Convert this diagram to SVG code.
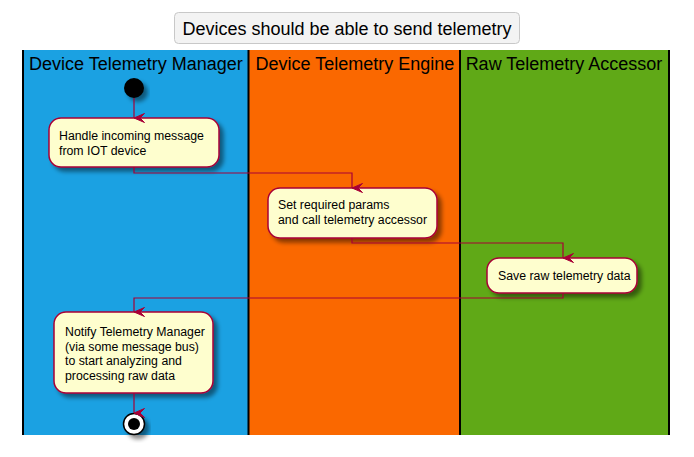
<svg xmlns="http://www.w3.org/2000/svg" width="694" height="457" viewBox="0 0 694 457">
  <defs>
    <filter id="shadow" x="-20%" y="-20%" width="150%" height="160%">
      <feGaussianBlur in="SourceAlpha" stdDeviation="2"/>
      <feOffset dx="4" dy="4" result="blur"/>
      <feColorMatrix in="blur" type="matrix" values="0 0 0 0 0  0 0 0 0 0  0 0 0 0 0  0 0 0 0.45 0" result="sh"/>
      <feMerge>
        <feMergeNode in="sh"/>
        <feMergeNode in="SourceGraphic"/>
      </feMerge>
    </filter>
    <marker id="arrow" markerWidth="10" markerHeight="12" refX="5" refY="11" orient="auto-start-reverse" markerUnits="userSpaceOnUse" viewBox="0 0 10 12">
      <path d="M0.5,0.5 L5,11 L9.5,0.5 L5,5 Z" fill="#A80036" stroke="#A80036" stroke-width="1"/>
    </marker>
  </defs>
  <style>
    .lane-title { font-family: "Liberation Sans", Arial, sans-serif; font-size: 18px; fill: #000; text-anchor: middle; }
    .title { font-family: "Liberation Sans", Arial, sans-serif; font-size: 18px; fill: #000; text-anchor: middle; }
    .act rect { fill: #FEFECE; stroke: #A80036; stroke-width: 1.5; }
    .act text { font-family: "Liberation Sans", Arial, sans-serif; font-size: 12.3px; fill: #000; }
    .divider { stroke: #000; stroke-width: 2; }
    .flow { fill: none; stroke: #A80036; stroke-width: 1.2; marker-end: url(#arrow); }
  </style>

  <rect width="694" height="457" fill="#FFFFFF"/>

  <!-- title -->
  <g id="title">
    <rect x="174.5" y="12.5" width="345" height="31" rx="4" fill="#F3F3F3" stroke="#C8C8C8"/>
    <text class="title" x="347" y="35">Devices should be able to send telemetry</text>
  </g>

  <!-- swimlanes -->
  <g id="lane-manager">
    <rect x="22" y="50" width="227" height="385" fill="#1BA1E2"/>
    <text class="lane-title" x="136" y="70">Device Telemetry Manager</text>
  </g>
  <g id="lane-engine">
    <rect x="249" y="50" width="211" height="385" fill="#FA6800"/>
    <text class="lane-title" x="355" y="70">Device Telemetry Engine</text>
  </g>
  <g id="lane-accessor">
    <rect x="460" y="50" width="209" height="385" fill="#60A917"/>
    <text class="lane-title" x="564" y="70">Raw Telemetry Accessor</text>
  </g>
  <g id="lane-dividers">
    <line class="divider" x1="23" y1="50" x2="23" y2="435"/>
    <line class="divider" x1="248.5" y1="50" x2="248.5" y2="435"/>
    <line class="divider" x1="460" y1="50" x2="460" y2="435"/>
    <line class="divider" x1="669" y1="50" x2="669" y2="435"/>
  </g>

  <!-- start / end -->
  <g id="start">
    <circle cx="134" cy="88" r="10" fill="#000" filter="url(#shadow)"/>
  </g>
  <g id="end">
    <circle cx="134" cy="424" r="10.5" fill="#FFFFFF" stroke="#000" stroke-width="1.5" filter="url(#shadow)"/>
    <circle cx="134" cy="424" r="6" fill="#000"/>
  </g>

  <!-- activities -->
  <g id="handle-message" class="act">
    <rect x="49" y="118" width="170" height="49" rx="12" filter="url(#shadow)"/>
    <text x="59" y="140">Handle incoming message</text>
    <text x="59" y="155">from IOT device</text>
  </g>
  <g id="set-params" class="act">
    <rect x="268" y="188" width="169" height="50" rx="12" filter="url(#shadow)"/>
    <text x="278" y="209">Set required params</text>
    <text x="278" y="224">and call telemetry accessor</text>
  </g>
  <g id="save-raw" class="act">
    <rect x="487" y="258" width="150" height="35" rx="12" filter="url(#shadow)"/>
    <text x="498" y="280">Save raw telemetry data</text>
  </g>
  <g id="notify-manager" class="act">
    <rect x="54" y="312" width="159" height="81" rx="12" filter="url(#shadow)"/>
    <text x="65" y="336">Notify Telemetry Manager</text>
    <text x="65" y="350.5">(via some message bus)</text>
    <text x="65" y="365">to start analyzing and</text>
    <text x="65" y="379.5">processing raw data</text>
  </g>

  <!-- connectors -->
  <g id="connectors">
    <path class="flow" d="M134,98 L134,118"/>
    <path class="flow" d="M134,167 L134,173 L352,173 L352,188"/>
    <path class="flow" d="M352,238 L352,243 L563,243 L563,258"/>
    <path class="flow" d="M563,293 L563,298 L134,298 L134,312"/>
    <path class="flow" d="M134,393 L134,413"/>
  </g>
</svg>
